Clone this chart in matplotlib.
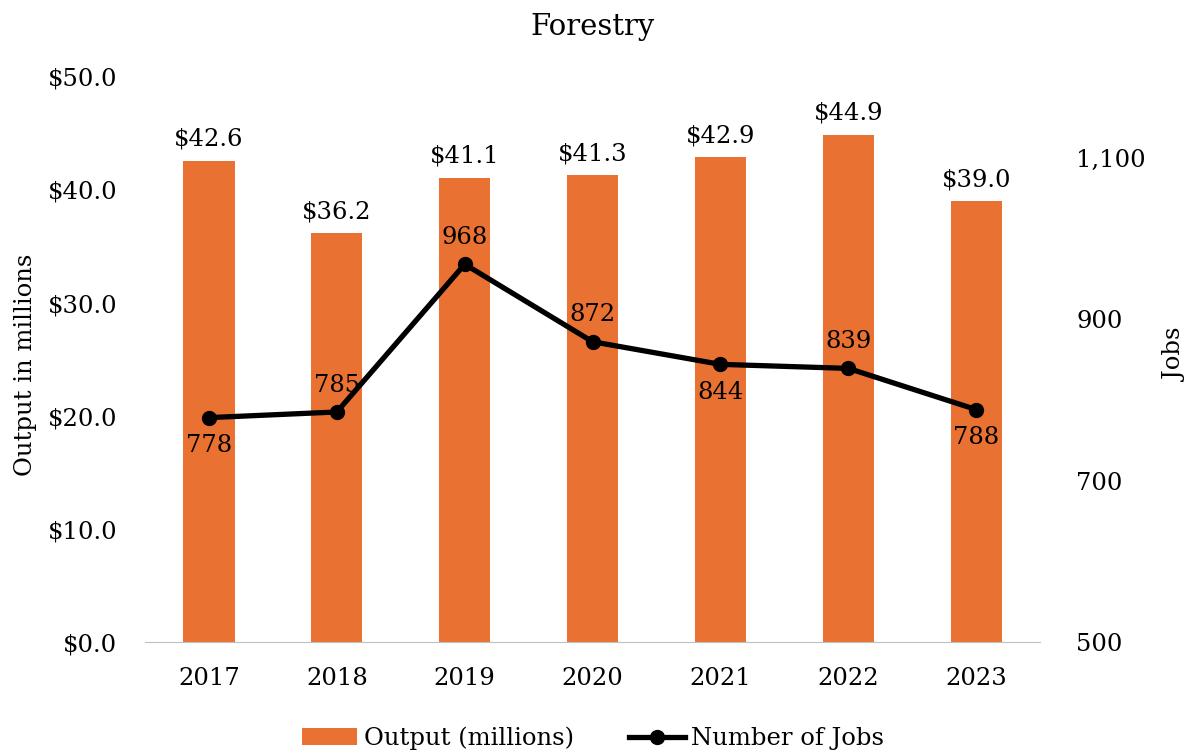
import matplotlib
matplotlib.use("Agg")
import matplotlib.pyplot as plt
import numpy as np

years = ["2017", "2018", "2019", "2020", "2021", "2022", "2023"]
output = [42.6, 36.2, 41.1, 41.3, 42.9, 44.9, 39.0]
jobs = [778, 785, 968, 872, 844, 839, 788]
job_label_pos = ["below", "above", "above", "above", "below", "above", "below"]

plt.rcParams['font.family'] = ['DejaVu Serif']
fs = 17.5

fig = plt.figure(figsize=(11.86, 7.54), dpi=100)
ax = fig.add_axes([0.1223, 0.1485, 0.7547, 0.7494])
ax2 = ax.twinx()

x = np.arange(len(years))
orange = "#E97132"
bars = ax.bar(x, output, width=0.4, color=orange, label="Output (millions)", zorder=2)
ax.set_ylim(0, 50)
ax.set_yticks(np.arange(0, 51, 10))
ax.set_yticklabels([f"${v:.1f}" for v in np.arange(0, 51, 10)], fontsize=fs)
ax.set_xlim(-0.5, len(years) - 0.5)
ax.set_xticks(x)
ax.set_xticklabels(years, fontsize=fs)
ax.set_ylabel("Output in millions", fontsize=fs, va="center")
ax.yaxis.set_label_coords(-0.134, 0.49)
for xi, v in zip(x, output):
    ax.annotate(f"${v:.1f}", (xi, v), xytext=(0, 7), textcoords="offset points",
                ha="center", va="bottom", fontsize=fs)

line, = ax2.plot(x, jobs, color="black", lw=3.8, marker="o", ms=10, label="Number of Jobs", zorder=3)
ax2.set_ylim(500, 1200)
ax2.set_yticks([500, 700, 900, 1100])
ax2.set_yticklabels(["500", "700", "900", "1,100"], fontsize=fs)
ax2.set_ylabel("Jobs", fontsize=fs, va="center", rotation=90)
ax2.yaxis.set_label_coords(1.151, 0.508)
for xi, v, p in zip(x, jobs, job_label_pos):
    if p == "above":
        ax2.annotate(str(v), (xi, v), xytext=(0, 11), textcoords="offset points",
                     ha="center", va="bottom", fontsize=fs)
    else:
        ax2.annotate(str(v), (xi, v), xytext=(0, -12), textcoords="offset points",
                     ha="center", va="top", fontsize=fs)

for a in (ax, ax2):
    for s in ["top", "left", "right"]:
        a.spines[s].set_visible(False)
    a.tick_params(length=0)
ax.tick_params(axis="y", pad=20)
ax.tick_params(axis="x", pad=18)
ax2.tick_params(axis="y", pad=26)
ax2.spines["bottom"].set_visible(False)
ax.spines["bottom"].set_color("#bfbfbf")

ax.set_title("Forestry", fontsize=21, pad=30)

fig.legend([bars, line], ["Output (millions)", "Number of Jobs"], loc="lower center",
           bbox_to_anchor=(0.5, -0.024), ncol=2, frameon=False, fontsize=fs,
           handlelength=2.3, columnspacing=2.3, handletextpad=0.25)

fig.savefig("out.png", dpi=100)
